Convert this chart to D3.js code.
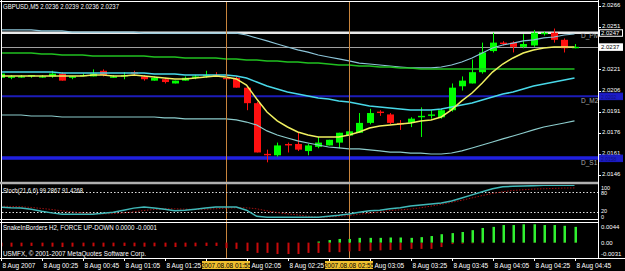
<!DOCTYPE html>
<html><head><meta charset="utf-8">
<script src="https://cdn.jsdelivr.net/npm/d3@7"></script>
<style>html,body{margin:0;padding:0;background:#000;overflow:hidden}svg{display:block}</style>
</head><body><svg id="c" width="625" height="271"></svg>
<script>
// ---------- DATA ----------
const times = ["00:05","00:10","00:15","00:20","00:25","00:30","00:35","00:40","00:45","00:50","00:55",
"01:00","01:05","01:10","01:15","01:20","01:25","01:30","01:35","01:40","01:45","01:50","01:55",
"02:00","02:05","02:10","02:15","02:20","02:25","02:30","02:35","02:40","02:45","02:50","02:55",
"03:00","03:05","03:10","03:15","03:20","03:25","03:30","03:35","03:40","03:45","03:50","03:55",
"04:00","04:05","04:10","04:15","04:20","04:25","04:30","04:35","04:40","04:45"];
const open  = [2.0215,2.0215,2.0216,2.0216,2.0216,2.0216,2.0218,2.0215,2.0217,2.0216,2.0220,2.0215,2.0216,2.0219,2.0216,2.0213,2.0214,2.0211,2.0213,2.0215,2.0216,2.0217,2.0215,2.0215,2.0208,2.0197,2.0161,2.0160,2.0168,2.0168,2.0163,2.0166,2.0167,2.0169,2.0174,2.0176,2.0183,2.0191,2.0189,2.0183,2.0183,2.0187,2.0188,2.0187,2.0192,2.0209,2.0211,2.0219,2.0234,2.0240,2.0240,2.0237,2.0238,2.0246,2.0247,2.0242,2.0236];
const high  = [2.0219,2.0217,2.0217,2.0217,2.0217,2.0220,2.0219,2.0216,2.0218,2.0221,2.0221,2.0217,2.0219,2.0220,2.0217,2.0216,2.0215,2.0213,2.0216,2.0217,2.0220,2.0219,2.0216,2.0216,2.0209,2.0198,2.0164,2.0169,2.0169,2.0176,2.0168,2.0173,2.0171,2.0176,2.0178,2.0190,2.0193,2.0192,2.0190,2.0185,2.0187,2.0194,2.0192,2.0193,2.0211,2.0216,2.0228,2.0240,2.0247,2.0241,2.0241,2.0246,2.0249,2.0248,2.0250,2.0243,2.0239];
const low   = [2.0214,2.0214,2.0215,2.0215,2.0215,2.0215,2.0213,2.0214,2.0216,2.0216,2.0216,2.0215,2.0214,2.0217,2.0213,2.0213,2.0211,2.0211,2.0213,2.0214,2.0215,2.0216,2.0214,2.0208,2.0192,2.0162,2.0155,2.0159,2.0162,2.0163,2.0160,2.0165,2.0167,2.0165,2.0174,2.0176,2.0182,2.0188,2.0182,2.0178,2.0180,2.0173,2.0186,2.0186,2.0191,2.0206,2.0211,2.0218,2.0233,2.0238,2.0233,2.0236,2.0237,2.0245,2.0240,2.0233,2.0236];
const close = [2.0218,2.0216,2.0216,2.0217,2.0216,2.0218,2.0213,2.0216,2.0217,2.0218,2.0217,2.0216,2.0217,2.0218,2.0214,2.0215,2.0212,2.0213,2.0215,2.0216,2.0217,2.0216,2.0214,2.0208,2.0197,2.0162,2.0160,2.0167,2.0167,2.0164,2.0167,2.0169,2.0171,2.0176,2.0177,2.0183,2.0190,2.0190,2.0183,2.0182,2.0186,2.0188,2.0189,2.0192,2.0208,2.0213,2.0219,2.0233,2.0240,2.0239,2.0237,2.0239,2.0247,2.0247,2.0242,2.0236,2.0237];

const bandUpper = [2.02490,2.02490,2.02490,2.02490,2.02483,2.02483,2.02483,2.02475,2.02475,2.02475,2.02475,2.02475,2.02475,2.02475,2.02468,2.02468,2.02468,2.02468,2.02468,2.02468,2.02468,2.02468,2.02468,2.02468,2.02454,2.02433,2.02412,2.02390,2.02369,2.02348,2.02333,2.02312,2.02298,2.02284,2.02270,2.02255,2.02248,2.02241,2.02234,2.02227,2.02220,2.02220,2.02220,2.02227,2.02241,2.02262,2.02291,2.02326,2.02362,2.02383,2.02397,2.02412,2.02419,2.02433,2.02440,2.02454,2.02461];
const bandMiddle = [2.02191,2.02191,2.02191,2.02191,2.02191,2.02191,2.02184,2.02184,2.02184,2.02184,2.02184,2.02184,2.02184,2.02184,2.02184,2.02177,2.02177,2.02177,2.02170,2.02170,2.02170,2.02170,2.02170,2.02163,2.02149,2.02120,2.02092,2.02071,2.02049,2.02035,2.02021,2.02007,2.02000,2.01986,2.01978,2.01964,2.01950,2.01943,2.01936,2.01929,2.01922,2.01922,2.01922,2.01929,2.01943,2.01957,2.01971,2.01993,2.02014,2.02035,2.02049,2.02071,2.02092,2.02106,2.02120,2.02135,2.02149];
const bandLower = [2.01886,2.01886,2.01886,2.01879,2.01879,2.01879,2.01872,2.01872,2.01872,2.01872,2.01872,2.01872,2.01872,2.01872,2.01872,2.01872,2.01865,2.01865,2.01858,2.01858,2.01858,2.01858,2.01858,2.01851,2.01836,2.01815,2.01773,2.01744,2.01723,2.01702,2.01687,2.01673,2.01659,2.01652,2.01645,2.01645,2.01638,2.01631,2.01623,2.01623,2.01616,2.01616,2.01609,2.01609,2.01616,2.01631,2.01652,2.01673,2.01694,2.01716,2.01737,2.01758,2.01780,2.01801,2.01815,2.01829,2.01844];
const slowMA = [2.02326,2.02326,2.02326,2.02326,2.02319,2.02319,2.02312,2.02312,2.02312,2.02305,2.02305,2.02305,2.02305,2.02305,2.02305,2.02298,2.02298,2.02298,2.02291,2.02291,2.02291,2.02291,2.02284,2.02284,2.02277,2.02277,2.02270,2.02270,2.02262,2.02262,2.02255,2.02255,2.02248,2.02241,2.02241,2.02234,2.02234,2.02227,2.02227,2.02220,2.02220,2.02213,2.02213,2.02213,2.02213,2.02213,2.02213,2.02213,2.02213,2.02213,2.02213,2.02213,2.02213,2.02213,2.02213,2.02213,2.02213];
const fastMA = [2.02163,2.02163,2.02163,2.02163,2.02163,2.02163,2.02163,2.02163,2.02163,2.02170,2.02170,2.02163,2.02163,2.02170,2.02163,2.02156,2.02149,2.02142,2.02142,2.02149,2.02156,2.02163,2.02156,2.02142,2.02099,2.02000,2.01907,2.01844,2.01801,2.01765,2.01744,2.01730,2.01730,2.01730,2.01744,2.01765,2.01794,2.01808,2.01815,2.01822,2.01829,2.01844,2.01851,2.01872,2.01922,2.01986,2.02042,2.02113,2.02191,2.02248,2.02291,2.02326,2.02348,2.02362,2.02369,2.02369,2.02369];

const levelNames  = ["D_Pivot","D_M2","D_S1"];
const levelValues = [2.0247, 2.0202, 2.0158];
const bidPrice = 2.0237;
const priceTicks = [2.0266,2.0251,2.0236,2.0221,2.0206,2.0191,2.0176,2.0161,2.0146];
const markedTimes = ["01:55","02:55"];

const stochMain   = [35,33,32,29,23,18,14,14,14,14,17,20,26,32,35,32,29,24,26,29,32,35,35,35,26,8,5,5,5,5,5,5,8,11,15,20,24,26,30,33,38,41,44,47,53,62,71,80,89,95,96,97,98,99,99,99,99.2867];
const stochSignal = [38,37,36,34,31,28,24,21,18,16,15,16,18,21,25,28,30,30,29,28,29,30,32,33,33,30,24,19,15,12,8,5,6,8,10,14,17,21,25,27,29,33,38,43,49,55,62,69,75,80,84,86,88,89,90,91,91.4268];
const stochLevels = [80,20];
const stochLabels = [100,80,20,0];

const forceUp   = [0,0,0,0,0,0,0,0,0,0,0,0,0,0,0,0,0,0,0,0,0,0,0,0,0,0,0,0,0,0,0,0.0003,0.0007,0.0010,0.0010,0.0013,0.0013,0.0013,0.0014,0.0014,0.0013,0.0015,0.0018,0.0023,0.0026,0.0029,0.0034,0.0040,0.0043,0.0048,0.0048,0.0050,0.0050,0.0048,0.0048,0.0046,0.0043];
const forceDown = [-0.0010,-0.0011,-0.0010,-0.0009,-0.0010,-0.0011,-0.0012,-0.0011,-0.0010,-0.0010,-0.0011,-0.0010,-0.0009,-0.0010,-0.0011,-0.0010,-0.0011,-0.0012,-0.0011,-0.0010,-0.0009,-0.0009,-0.0015,-0.0017,-0.0023,-0.0028,-0.0028,-0.0031,-0.0031,-0.0031,-0.0028,-0.0028,-0.0026,-0.0026,-0.0024,-0.0023,-0.0022,-0.0021,-0.0020,-0.0020,-0.0017,-0.0017,-0.0017,-0.0012,-0.0004,-0.0003,-0.0002,-0.0002,-0.0001,-0.0001,-0.0001,-0.0001,-0.0001,-0.0001,-0.0001,-0.0001,-0.0001];
const forceLabels = ["0.0044","0.00","-0.0031"];
const forceLabelValues = [0.0044, 0.0, -0.0031];

// ---------- DRAW ----------
const W = 625, H = 271;
const FONT = "'Liberation Sans', Arial, sans-serif";
const svg = d3.select("#c");
svg.append("rect").attr("width", W).attr("height", H).attr("fill", "#000");

const x = d3.scalePoint().domain(times).range([0.5, 574.5]);
const px = t => Math.round(x(t)) + 0.5;
const y = d3.scaleLinear().domain([2.0146, 2.0266]).range([175, 6]);
const sy = d3.scaleLinear().domain([0, 100]).range([219, 185]);
const fy = d3.scaleLinear().domain([-0.0031, 0.0044]).range([254, 226.5]);

const defs = svg.append("defs");
defs.append("clipPath").attr("id","cm").append("rect").attr("x",2).attr("y",2).attr("width",596).attr("height",179);
defs.append("clipPath").attr("id","cs").append("rect").attr("x",2).attr("y",185).attr("width",596).attr("height",34);
defs.append("clipPath").attr("id","cf").append("rect").attr("x",2).attr("y",223).attr("width",596).attr("height",34);

// ---- main panel ----
const main = svg.append("g").attr("clip-path","url(#cm)");
const lvlStyle = [{c:"#e8e8e8",w:2.5},{c:"#1c1cb8",w:2},{c:"#2020e0",w:3.5}];
levelValues.forEach((v,i)=>{
  main.append("line").attr("x1",0).attr("x2",598).attr("y1",y(v)).attr("y2",y(v))
    .attr("stroke",lvlStyle[i].c).attr("stroke-width",lvlStyle[i].w);
  main.append("text").attr("x",581).attr("y",y(v)+ (i===0?5.5:6.5)).text(levelNames[i])
    .attr("fill","#a8a8a8").attr("font-size",6.5).attr("font-family",FONT);
});
main.append("line").attr("x1",0).attr("x2",598).attr("y1",Math.round(y(bidPrice))+0.5).attr("y2",Math.round(y(bidPrice))+0.5)
  .attr("stroke","#a0a0a0").attr("stroke-width",1);

markedTimes.forEach(t=>{
  svg.append("line").attr("x1",px(t)).attr("x2",px(t)).attr("y1",2).attr("y2",258)
    .attr("stroke","#c8843c").attr("stroke-width",1);
});

const idx = d3.range(times.length);
const mkLine = arr => d3.line().x(i=>x(times[i])).y(i=>y(arr[i]));
const lines = [
  {d:bandUpper, c:"#8cc4d8", w:1.2},
  {d:bandLower, c:"#8ccccc", w:1.2},
  {d:slowMA, c:"#20c020", w:1.5},
  {d:bandMiddle, c:"#48d8e8", w:1.5}
];

const bars = times.map((t,i)=>({t,o:open[i],h:high[i],l:low[i],c:close[i]}));
const col = d => d.c < d.o ? "#ff1010" : "#00ff00";
const cg = main.append("g");
cg.selectAll("line").data(bars).join("line")
  .attr("x1",d=>px(d.t)).attr("x2",d=>px(d.t))
  .attr("y1",d=>y(d.h)).attr("y2",d=>y(d.l))
  .attr("stroke",col).attr("stroke-width",1);
cg.selectAll("rect").data(bars).join("rect")
  .attr("x",d=>Math.round(x(d.t))-3).attr("width",7)
  .attr("y",d=>Math.min(y(d.o),y(d.c)))
  .attr("height",d=>Math.max(1.2,Math.abs(y(d.o)-y(d.c))))
  .attr("fill",col);

lines.forEach(L=>{
  main.append("path").datum(idx).attr("d",mkLine(L.d)).attr("fill","none")
    .attr("stroke",L.c).attr("stroke-width",L.w);
});
main.append("path").datum(idx).attr("d",mkLine(fastMA)).attr("fill","none")
  .attr("stroke","#f0f060").attr("stroke-width",1.5);

svg.append("text").attr("x",3).attr("y",8.5).text("GBPUSD,M5  2.0236 2.0239 2.0236 2.0237")
  .attr("fill","#fff").attr("font-size",7).attr("font-family",FONT)
  .attr("textLength",116).attr("lengthAdjust","spacingAndGlyphs");

// ---- stoch panel ----
const st = svg.append("g").attr("clip-path","url(#cs)");
stochLevels.forEach(v=>{
  st.append("line").attr("x1",2).attr("x2",598).attr("y1",Math.round(sy(v))+0.5).attr("y2",Math.round(sy(v))+0.5)
    .attr("stroke","#e0e0e0").attr("stroke-width",1).attr("stroke-dasharray","1.5,2");
});
const sLine = arr => d3.line().x(i=>x(times[i])).y(i=>sy(arr[i]));
st.append("path").datum(idx).attr("d",sLine(stochSignal)).attr("fill","none")
  .attr("stroke","#a01010").attr("stroke-width",1).attr("stroke-dasharray","1.5,1.5");
st.append("path").datum(idx).attr("d",sLine(stochMain)).attr("fill","none")
  .attr("stroke","#40b8b8").attr("stroke-width",1.5);
svg.append("text").attr("x",3).attr("y",193).text("Stoch(21,6,6) 99.2867 91.4268")
  .attr("fill","#fff").attr("font-size",6.5).attr("font-family",FONT)
  .attr("textLength",80).attr("lengthAdjust","spacingAndGlyphs");

// ---- force panel ----
const fg = svg.append("g").attr("clip-path","url(#cf)");
fg.selectAll("rect.dn").data(bars).join("rect").attr("class","dn")
  .attr("x",d=>Math.round(x(d.t))-0.5).attr("width",2)
  .attr("y",fy(0)).attr("height",(d,i)=>fy(forceDown[i])-fy(0))
  .attr("fill","#c80a0a");
fg.selectAll("rect.up").data(bars).join("rect").attr("class","up")
  .attr("x",d=>Math.round(x(d.t))-0.5).attr("width",2.5)
  .attr("y",(d,i)=>fy(forceUp[i])).attr("height",(d,i)=>fy(0)-fy(forceUp[i]))
  .attr("fill","#30f030");
svg.append("text").attr("x",3).attr("y",230).text("SnakeInBorders H2, FORCE UP-DOWN  0.0000 -0.0001")
  .attr("fill","#fff").attr("font-size",6.5).attr("font-family",FONT)
  .attr("textLength",154).attr("lengthAdjust","spacingAndGlyphs");
svg.append("text").attr("x",3).attr("y",256).text("USMFX, © 2001-2007 MetaQuotes Software Corp.")
  .attr("fill","#fff").attr("font-size",6.5).attr("font-family",FONT)
  .attr("textLength",143).attr("lengthAdjust","spacingAndGlyphs");

// ---- borders ----
const bl = (x1,y1,x2,y2,c,w)=>svg.append("line").attr("x1",x1).attr("y1",y1).attr("x2",x2).attr("y2",y2).attr("stroke",c).attr("stroke-width",w||1);
bl(0,1.5,598,1.5,"#fff");
bl(1.5,0,1.5,258,"#fff");
bl(598.5,0,598.5,258,"#fff");
bl(0,183,598,183,"#b0b0b0",2.5);
bl(0,219.5,598,219.5,"#fff");
bl(0,222.5,598,222.5,"#fff");
bl(0,258.5,625,258.5,"#fff");

// ---- right axis ----
const ax = svg.append("g").attr("font-family",FONT).attr("font-size",6).attr("fill","#fff");
const boxes = [
  {v:levelValues[0], fill:"#000", stroke:"#fff", tc:"#fff", fs:6},
  {v:bidPrice, fill:"#fff", stroke:"#fff", tc:"#000", fs:6},
  {v:levelValues[1], fill:"#1c1cc8", stroke:"#1c1cc8", tc:"#101080", fs:5},
  {v:levelValues[2], fill:"#1c1cc8", stroke:"#1c1cc8", tc:"#101080", fs:5}
];
priceTicks.forEach(v=>{
  ax.append("line").attr("x1",598).attr("x2",601).attr("y1",Math.round(y(v))+0.5).attr("y2",Math.round(y(v))+0.5).attr("stroke","#fff");
  const hidden = boxes.some(b=>Math.abs(y(b.v)-y(v))<4);
  if (!hidden) ax.append("text").attr("x",602).attr("y",y(v)+1.2).text(d3.format(".4f")(v));
});
boxes.forEach(b=>{
  ax.append("rect").attr("x",599.5).attr("y",y(b.v)-3).attr("width",23).attr("height",6.5)
    .attr("fill",b.fill).attr("stroke",b.stroke).attr("stroke-width",1);
  ax.append("text").attr("x",601).attr("y",y(b.v)+ (b.fs===5?2.4:2.2)).attr("font-size",b.fs)
    .text(d3.format(".4f")(b.v)).attr("fill",b.tc);
});
const stochLabelY = [189.5, 195, 212.5, 219];
stochLabels.forEach((v,i)=>{
  ax.append("text").attr("x",601).attr("y",stochLabelY[i]).attr("font-size",5.5).text(v);
});
forceLabelValues.forEach((v,i)=>{
  ax.append("text").attr("x",601).attr("y",[229,245,256][i]).text(forceLabels[i]);
});

// ---- time axis ----
const tg = svg.append("g").attr("font-family",FONT).attr("font-size",6.5).attr("fill","#fff");
const boxSpans = markedTimes.map(t=>[x(t)-24, x(t)+24]);
times.forEach((t,i)=>{
  if (i % 4 !== 0) return;
  const lx = px(t)+1;
  tg.append("line").attr("x1",px(t)).attr("x2",px(t)).attr("y1",258).attr("y2",261).attr("stroke","#fff");
  const label = i===0 ? "8 Aug 2007" : "8 Aug " + t;
  const cover = boxSpans.find(s=>lx >= s[0]-2 && lx <= s[1]);
  if (!cover) { tg.append("text").attr("x",lx).attr("y",268).text(label); return; }
  if (lx + 8 > cover[1]) tg.append("text").attr("x",cover[1]+1.5).attr("y",268).text(label.slice(2));
});
markedTimes.forEach(t=>{
  const cx = x(t);
  tg.append("rect").attr("x",cx-24).attr("y",261).attr("width",48).attr("height",8).attr("fill","#f0c030");
  tg.append("text").attr("x",cx).attr("y",267.5).attr("text-anchor","middle").attr("fill","#000")
    .text("2007.08.08 " + t);
});
</script>
</body></html>
